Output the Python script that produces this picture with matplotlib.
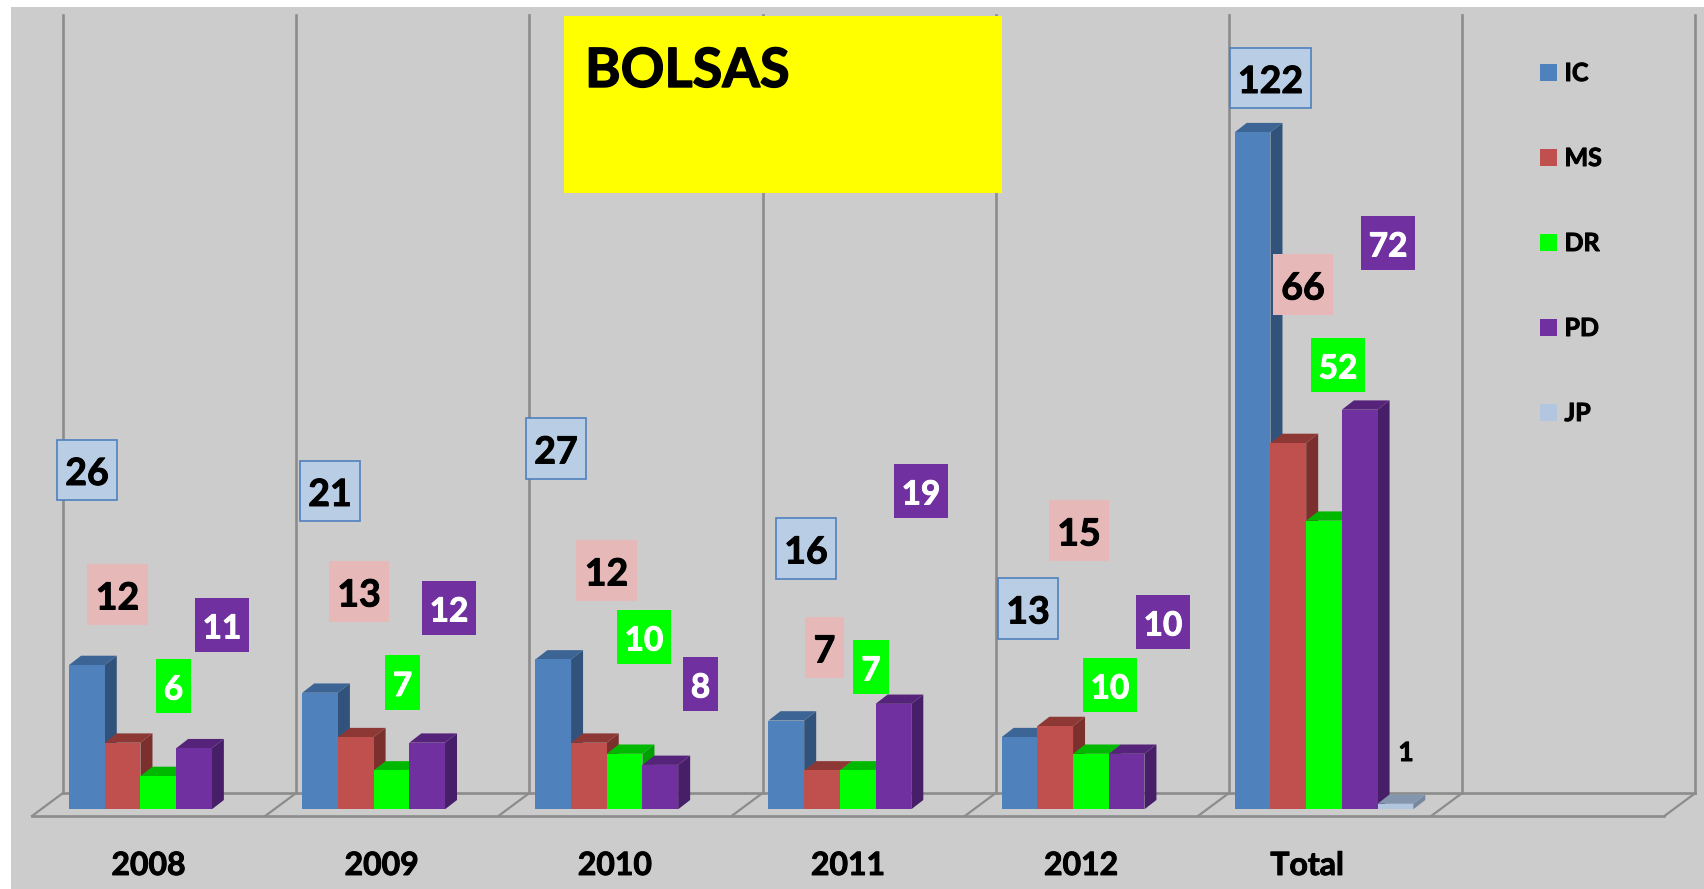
import numpy as np
import matplotlib
matplotlib.use("Agg")
import matplotlib.pyplot as plt
import matplotlib.patheffects as pe
from matplotlib.patches import Rectangle, Polygon, Patch
from matplotlib.transforms import Affine2D, ScaledTranslation

# Data
categories = ["2008", "2009", "2010", "2011", "2012", "Total"]
series_names = ["IC", "MS", "DR", "PD", "JP"]
ic = [26, 21, 27, 16, 13, 122]
ms = [12, 13, 12, 7, 15, 66]
dr = [6, 7, 10, 7, 10, 52]
pd_vals = [11, 12, 8, 19, 10, 72]
jp = [0, 0, 0, 0, 0, 1]
all_series = [ic, ms, dr, pd_vals, jp]

# Colours: front, side, top
front = ["#4F81BD", "#C0504D", "#00FF00", "#7030A0", "#B3C6E0"]
side = ["#31537B", "#7B302E", "#00A000", "#471F68", "#76879E"]
top = ["#3C6494", "#8E3836", "#00B800", "#55247A", "#8496AE"]
box_fill = ["#B9CDE5", "#E6B9B8", "#00FF00", "#7030A0"]
box_text = ["black", "black", "white", "white"]

# Label boxes in reference pixels (left, right, top, bottom), one row per series
box_ic = [(57, 117, 440, 500), (300, 360, 461, 521), (526, 586, 418, 479),
          (776, 836, 518, 579), (998, 1058, 578, 639), (1230, 1311, 48, 108)]
box_ms = [(87, 148, 564, 625), (329, 389, 561, 622), (576, 637, 540, 601),
          (805, 844, 617, 678), (1049, 1109, 500, 561), (1273, 1333, 254, 315)]
box_dr = [(156, 191, 659, 713), (385, 420, 655, 710), (617, 671, 610, 664),
          (853, 889, 640, 694), (1083, 1137, 658, 712), (1311, 1365, 338, 392)]
box_pd = [(195, 249, 598, 652), (422, 476, 581, 635), (683, 718, 657, 711),
          (894, 948, 464, 518), (1136, 1190, 595, 649), (1361, 1415, 216, 270)]
boxes = [box_ic, box_ms, box_dr, box_pd]

W, H = 1704, 889
FONT = "Lato"
plt.rcParams["font.family"] = FONT
plt.rcParams["font.weight"] = "bold"

fig = plt.figure(figsize=(W / 100, H / 100), dpi=100, facecolor="white")

# Transform for things placed in reference pixels
PX = Affine2D().scale(1 / W, -1 / H).translate(0, 1) + fig.transFigure


# Lato bold is a bit lighter than the original, so thicken the glyphs
def heavy(color, width=0.7):
    return [pe.withStroke(linewidth=width, foreground=color)]


# Axes runs from the floor front corner to the last slot, bars sit on y=0
ax_left, ax_right, ax_top, ax_base = 32, 1664, 15, 809.3
ax = fig.add_axes([ax_left / W, 1 - ax_base / H, (ax_right - ax_left) / W, (ax_base - ax_top) / H])
ax.patch.set_visible(False)
px_per_unit = 5.55
ax.set_xlim(-0.5, 6.5)
ax.set_ylim(0, (ax_base - ax_top) / px_per_unit)
px_per_slot = (ax_right - ax_left) / 7

fig.add_artist(Rectangle((11, 7), W - 11, H - 7, transform=PX, facecolor="#CCCCCC", edgecolor="none", zorder=-1))

# Walls and floor
grid = "#8C8C8C"
for k in range(8):
    wx = 63 + k * 233.2
    ax.plot([wx, wx], [15, 793], color=grid, lw=1.9, transform=PX, clip_on=False, zorder=1)
    fx = 32 + k * 233.2
    ax.plot([fx, wx], [816, 793], color=grid, lw=1.6, transform=PX, clip_on=False, zorder=1)
ax.plot([63, 1695], [793, 793], color=grid, lw=1.9, transform=PX, clip_on=False, zorder=1)
ax.plot([32, 1664], [816, 816], color=grid, lw=1.9, transform=PX, clip_on=False, zorder=1)

# 3D looking bars
bar_w = 35.7 / px_per_slot
dx = 12 / px_per_slot
dy = 9.3 / px_per_unit
group_offset = -0.341
positions = np.arange(len(categories))

for j, values in enumerate(all_series):
    xs = positions + group_offset + j * bar_w
    for x, v in zip(xs, values):
        if v == 0:
            continue
        ax.add_patch(Polygon([(x + bar_w, 0), (x + bar_w + dx, dy), (x + bar_w + dx, v + dy), (x + bar_w, v)],
                             facecolor=side[j], edgecolor="none", zorder=3 + 2 * j))
        ax.add_patch(Polygon([(x, v), (x + dx, v + dy), (x + bar_w + dx, v + dy), (x + bar_w, v)],
                             facecolor=top[j], edgecolor="none", zorder=3 + 2 * j))
    ax.bar(xs, values, width=bar_w, align="edge", color=front[j], zorder=4 + 2 * j)

# Value labels
for j, rows in enumerate(boxes):
    for (l, r, t, b), v in zip(rows, all_series[j]):
        is_ic = j == 0
        fig.add_artist(Rectangle((l, t), r - l, b - t, transform=PX, facecolor=box_fill[j],
                                 edgecolor="#4F81BD" if is_ic else "none", lw=1.2, zorder=5))
        size = 27 if j < 2 else 24
        fig.text((l + r) / 2, (t + b) / 2 + 4, str(v), transform=PX, ha="center", va="center",
                 color=box_text[j], fontsize=size, fontweight="bold", zorder=6,
                 path_effects=heavy(box_text[j]))
fig.text(1406, 753, str(jp[5]), transform=PX, ha="center", va="center", color="black", fontsize=19, zorder=6,
         path_effects=heavy("black"))

# Title box
fig.add_artist(Rectangle((564, 16), 438, 177, transform=PX, facecolor="#FFFF00", edgecolor="none", zorder=5))
fig.text(585, 87, "BOLSAS", transform=PX, ha="left", va="baseline", color="black", fontsize=39, zorder=6,
         path_effects=heavy("black", 1.0))

# Category axis
ax.set_xticks(positions)
ax.set_xticklabels(categories, fontsize=23, fontweight="bold")
ax.tick_params(axis="x", length=0, pad=30)
ax.set_yticks([])
for s in ax.spines.values():
    s.set_visible(False)
for lab in ax.get_xticklabels():
    lab.set_path_effects(heavy("black"))
total_lab = ax.get_xticklabels()[-1]
total_lab.set_transform(total_lab.get_transform() + ScaledTranslation(-7 / 100, 0, fig.dpi_scale_trans))

# Legend
handles = [Patch(facecolor=c, edgecolor="none") for c in front]
leg = ax.legend(handles, series_names, loc="upper left", bbox_to_anchor=(1540 / W, 1 - 62 / H),
                bbox_transform=fig.transFigure, frameon=False, fontsize=18, handlelength=0.68, handleheight=0.68,
                handletextpad=0.3, labelspacing=2.48, borderpad=0, borderaxespad=0)
for t in leg.get_texts():
    t.set_path_effects(heavy("black"))

fig.savefig("out.png", dpi=100, facecolor="white")
